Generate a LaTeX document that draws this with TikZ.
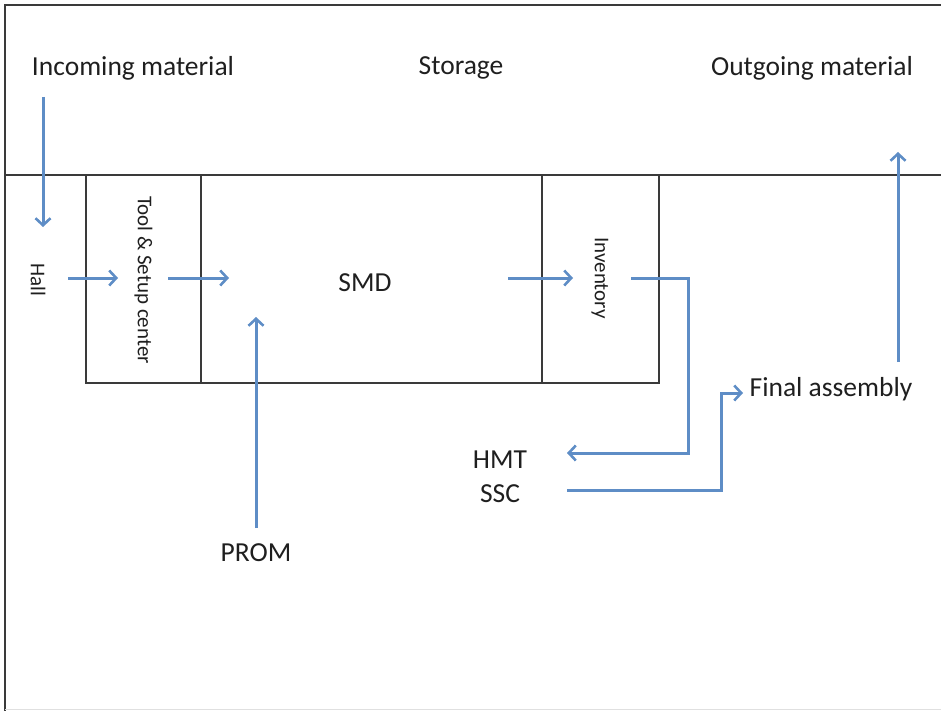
\documentclass[tikz,border=0pt]{standalone}
\usepackage{fontspec}
\setmainfont{Carlito}
\usetikzlibrary{arrows.meta}
\definecolor{flow}{HTML}{5E8DC6}
\definecolor{frame}{HTML}{3A3A3A}
\begin{document}
\begin{tikzpicture}[x=1pt,y=-1pt,
  lbl/.style={inner sep=0pt, font=\fontsize{27.5}{32}\selectfont, text=black!88},
  vlbl/.style={inner sep=0pt, font=\fontsize{21}{25}\selectfont, text=black!88, rotate=-90},
  boxnode/.style={draw=frame, line width=2pt, inner sep=0pt, fill=none},
  flowarrow/.style={draw=flow, line width=3pt, -{Straight Barb[length=7pt,width=15pt,line width=2.6pt]}},
  flowline/.style={draw=flow, line width=3pt}]
\useasboundingbox (0,0) rectangle (941,711);
% frame
\draw[frame, line width=2pt] (941,5) -- (5,5) -- (5,711);
\draw[black!12, line width=1.5pt] (5,709.5) -- (941,709.5);
\draw[frame, line width=1.6pt] (5,175) -- (941,175);
% boxes
\node[boxnode, minimum width=115pt, minimum height=208pt] (tool) at (143.5,279) {};
\node[boxnode, minimum width=341pt, minimum height=208pt] (smd) at (371.5,279) {};
\node[boxnode, minimum width=117pt, minimum height=208pt] (inv) at (600.5,279) {};
% labels
\node[lbl] (incoming) at (133,68) {Incoming material};
\node[lbl] (storage) at (461,68) {Storage};
\node[lbl] (outgoing) at (812,68) {Outgoing material};
\node[lbl] (smdtext) at (365,283) {SMD};
\node[lbl] (final) at (831,389) {Final assembly};
\node[lbl] (hmt) at (500,460) {HMT};
\node[lbl] (ssc) at (500,494) {SSC};
\node[lbl] (prom) at (256,553) {PROM};
\node[vlbl] (hall) at (38,280) {Hall};
\node[vlbl] (tooltext) at (143.5,280) {Tool \& Setup center};
\node[vlbl] (invtext) at (600,278) {Inventory};
% arrow end points
\coordinate (a1s) at (43,97);   \coordinate (a1e) at (43,227);
\coordinate (a2s) at (68,278);  \coordinate (a2e) at (118,278);
\coordinate (a3s) at (168,278); \coordinate (a3e) at (229,278);
\coordinate (a4s) at (508,278); \coordinate (a4e) at (573,278);
\coordinate (a5s) at (631,278); \coordinate (a5c) at (688,278);
\coordinate (a5d) at (688,453); \coordinate (a5e) at (567,453);
\coordinate (a6s) at (567,490); \coordinate (a6c) at (721,490);
\coordinate (a6d) at (721,393); \coordinate (a6e) at (743,393);
\coordinate (a7s) at (256,528); \coordinate (a7e) at (256,317);
\coordinate (a8s) at (898,362); \coordinate (a8e) at (898,152);
% arrows
\draw[flowarrow] (a1s) -- (a1e);
\draw[flowarrow] (a2s) -- (a2e);
\draw[flowarrow] (a3s) -- (a3e);
\draw[flowarrow] (a4s) -- (a4e);
\draw[flowarrow] (a5s) -- (a5c) -- (a5d) -- (a5e);
\draw[flowarrow] (a6s) -- (a6c) -- (a6d) -- (a6e);
\draw[flowarrow] (a7s) -- (a7e);
\draw[flowarrow] (a8s) -- (a8e);
\end{tikzpicture}
\end{document}
